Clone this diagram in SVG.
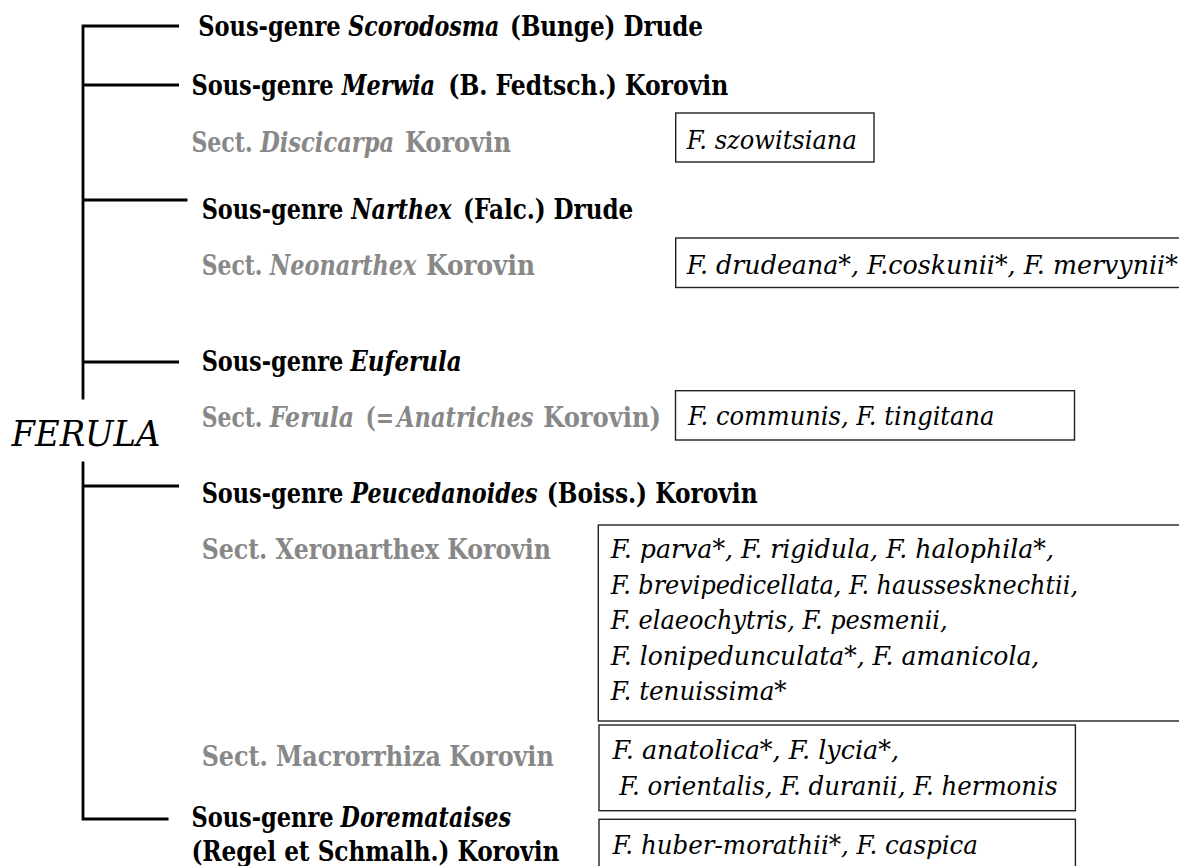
<svg xmlns="http://www.w3.org/2000/svg" width="1179" height="866" viewBox="0 0 1179 866" font-family="'DejaVu Serif Condensed', 'DejaVu Serif', serif">
<style>
text{font-stretch:condensed;}
.h{font-size:28px;font-weight:bold;fill:#000;}
.s{font-size:28px;font-weight:bold;fill:#888888;}
.i{font-style:italic;}
.b{font-size:25.5px;font-style:italic;fill:#000;}
.box{fill:#fff;stroke:#222;stroke-width:1.4;}
.ln{stroke:#000;stroke-width:2.8;fill:none;}
</style>
<rect width="1179" height="866" fill="#fff"/>
<g id="connectors">
<path class="ln" d="M83 26V399.5M83 461.5V819M81.6 26H179M81.6 85H179M81.6 200H187.5M81.6 362H179M81.6 486H179M81.6 819H168.5"/>
</g>
<g id="root"><text x="11.5" y="445.7" font-size="35.5" font-style="italic" textLength="149" lengthAdjust="spacingAndGlyphs">FERULA</text></g>
<g id="scorodosma">
<text class="h" x="198.2" y="35.7" textLength="142.4" lengthAdjust="spacingAndGlyphs">Sous-genre</text>
<text class="h i" x="348.3" y="35.7" textLength="151.1" lengthAdjust="spacingAndGlyphs">Scorodosma</text>
<text class="h" x="510" y="35.7" textLength="193" lengthAdjust="spacingAndGlyphs">(Bunge) Drude</text></g>
<g id="merwia">
<text class="h" x="191.4" y="95" textLength="142.3" lengthAdjust="spacingAndGlyphs">Sous-genre</text>
<text class="h i" x="341.7" y="95" textLength="93.3" lengthAdjust="spacingAndGlyphs">Merwia</text>
<text class="h" x="448.3" y="95" textLength="280" lengthAdjust="spacingAndGlyphs">(B. Fedtsch.) Korovin</text></g>
<g id="discicarpa">
<text class="s" x="191.4" y="152" textLength="61.2" lengthAdjust="spacingAndGlyphs">Sect.</text>
<text class="s i" x="260.2" y="152" textLength="134" lengthAdjust="spacingAndGlyphs">Discicarpa</text>
<text class="s" x="404.9" y="152" textLength="106.1" lengthAdjust="spacingAndGlyphs">Korovin</text></g>
<g id="box-szowitsiana"><rect class="box" x="675.7" y="113" width="198.3" height="49"/><text class="b" x="686.8" y="149" textLength="170" lengthAdjust="spacingAndGlyphs">F. szowitsiana</text></g>
<g id="narthex">
<text class="h" x="201.7" y="219" textLength="141.6" lengthAdjust="spacingAndGlyphs">Sous-genre</text>
<text class="h i" x="351.3" y="219" textLength="100.3" lengthAdjust="spacingAndGlyphs">Narthex</text>
<text class="h" x="463.1" y="219" textLength="170.2" lengthAdjust="spacingAndGlyphs">(Falc.) Drude</text></g>
<g id="neonarthex">
<text class="s" x="201.7" y="275" textLength="60.8" lengthAdjust="spacingAndGlyphs">Sect.</text>
<text class="s i" x="269.8" y="275" textLength="146.6" lengthAdjust="spacingAndGlyphs">Neonarthex</text>
<text class="s" x="426" y="275" textLength="109" lengthAdjust="spacingAndGlyphs">Korovin</text></g>
<g id="box-neonarthex"><rect class="box" x="675.7" y="238" width="520" height="49.5"/><text class="b" x="686.8" y="274" textLength="491" lengthAdjust="spacingAndGlyphs">F. drudeana*, F.coskunii*, F. mervynii*</text></g>
<g id="euferula">
<text class="h" x="201.7" y="371" textLength="141.6" lengthAdjust="spacingAndGlyphs">Sous-genre</text>
<text class="h i" x="350.2" y="371" textLength="111.5" lengthAdjust="spacingAndGlyphs">Euferula</text></g>
<g id="ferula-sect">
<text class="s" x="201.7" y="426.7" textLength="60.8" lengthAdjust="spacingAndGlyphs">Sect.</text>
<text class="s i" x="269.8" y="426.7" textLength="84.2" lengthAdjust="spacingAndGlyphs">Ferula</text>
<text class="s" x="365.5" y="426.7" textLength="28.7" lengthAdjust="spacingAndGlyphs">(=</text>
<text class="s i" x="397" y="426.7" textLength="136.5" lengthAdjust="spacingAndGlyphs">Anatriches</text>
<text class="s" x="543.3" y="426.7" textLength="117.7" lengthAdjust="spacingAndGlyphs">Korovin)</text></g>
<g id="box-ferula"><rect class="box" x="675.5" y="390.7" width="399" height="49.3"/><text class="b" x="688" y="425" textLength="306.4" lengthAdjust="spacingAndGlyphs">F. communis, F. tingitana</text></g>
<g id="peucedanoides">
<text class="h" x="201.7" y="503" textLength="141.6" lengthAdjust="spacingAndGlyphs">Sous-genre</text>
<text class="h i" x="351.3" y="503" textLength="186.2" lengthAdjust="spacingAndGlyphs">Peucedanoides</text>
<text class="h" x="546.7" y="503" textLength="210.9" lengthAdjust="spacingAndGlyphs">(Boiss.) Korovin</text></g>
<g id="xeronarthex"><text class="s" x="201.7" y="559" textLength="349.3" lengthAdjust="spacingAndGlyphs">Sect. Xeronarthex Korovin</text></g>
<g id="box-xeronarthex"><rect class="box" x="598.3" y="525" width="600" height="196"/>
<text class="b" x="610.7" y="558.3" textLength="443.3" lengthAdjust="spacingAndGlyphs">F. parva*, F. rigidula, F. halophila*,</text>
<text class="b" x="610.7" y="594" textLength="467.3" lengthAdjust="spacingAndGlyphs">F. brevipedicellata, F. haussesknechtii,</text>
<text class="b" x="610.7" y="629.3" textLength="337" lengthAdjust="spacingAndGlyphs">F. elaeochytris, F. pesmenii,</text>
<text class="b" x="610.7" y="664.5" textLength="428.6" lengthAdjust="spacingAndGlyphs">F. lonipedunculata*,  F. amanicola,</text>
<text class="b" x="610.7" y="700" textLength="176" lengthAdjust="spacingAndGlyphs">F. tenuissima*</text></g>
<g id="macrorrhiza"><text class="s" x="201.7" y="766" textLength="352" lengthAdjust="spacingAndGlyphs">Sect. Macrorrhiza Korovin</text></g>
<g id="box-macrorrhiza"><rect class="box" x="599" y="725" width="476.4" height="85.7"/>
<text class="b" x="612.5" y="759" textLength="286.5" lengthAdjust="spacingAndGlyphs">F. anatolica*, F. lycia*,</text>
<text class="b" x="619.3" y="795" textLength="438.2" lengthAdjust="spacingAndGlyphs">F. orientalis, F. duranii, F. hermonis</text></g>
<g id="doremataises">
<text class="h" x="191.4" y="826.7" textLength="142.3" lengthAdjust="spacingAndGlyphs">Sous-genre</text>
<text class="h i" x="340.6" y="826.7" textLength="170.4" lengthAdjust="spacingAndGlyphs">Doremataises</text>
<text class="h" x="191.4" y="860.5" textLength="368" lengthAdjust="spacingAndGlyphs">(Regel et Schmalh.) Korovin</text></g>
<g id="box-doremataises"><rect class="box" x="599" y="819.3" width="476.4" height="60"/><text class="b" x="612.5" y="854.3" textLength="365.5" lengthAdjust="spacingAndGlyphs">F. huber-morathii*, F. caspica</text></g>
</svg>
